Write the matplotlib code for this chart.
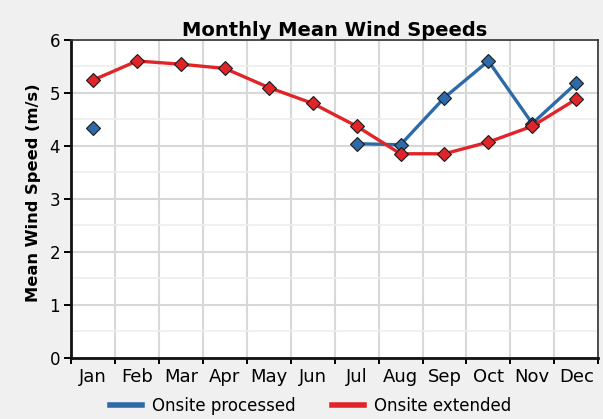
import matplotlib
matplotlib.use("Agg")
import matplotlib.pyplot as plt
import numpy as np
from matplotlib.ticker import MultipleLocator, FixedLocator

plt.rcParams['font.family'] = ['DejaVu Sans']

months = ["Jan", "Feb", "Mar", "Apr", "May", "Jun", "Jul", "Aug", "Sep", "Oct", "Nov", "Dec"]
processed = [4.33, None, None, None, None, None, 4.04, 4.02, 4.91, 5.60, 4.42, 5.18]
extended = [5.24, 5.60, 5.54, 5.46, 5.10, 4.80, 4.37, 3.85, 3.85, 4.07, 4.37, 4.88]

blue = "#2f6aa8"
red = "#e0252a"

fig = plt.figure(figsize=(6.03, 4.19), dpi=100, facecolor="#f0f0f0")
ax = fig.add_axes([0.118, 0.146, 0.874, 0.759])
ax.set_facecolor("white")

x = np.arange(len(months))
p = np.array([np.nan if v is None else v for v in processed], dtype=float)
e = np.array(extended, dtype=float)

ax.plot(x, p, color=blue, lw=2.4, marker="D", ms=7.5, mfc=blue, mec="#1a1a1a", mew=0.8, zorder=3,
        label="Onsite processed")
ax.plot(x, e, color=red, lw=2.4, marker="D", ms=7.5, mfc=red, mec="#1a1a1a", mew=0.8, zorder=4,
        label="Onsite extended")

ax.set_xlim(-0.5, 11.5)
ax.set_ylim(0, 6)
ax.set_xticks(x)
ax.set_xticklabels(months, fontsize=13)
ax.tick_params(axis="x", length=0, pad=7)
ax.xaxis.set_minor_locator(FixedLocator(np.arange(-0.5, 12, 1)))
ax.tick_params(axis="x", which="minor", length=4, width=1.4, direction="out")
ax.yaxis.set_major_locator(MultipleLocator(1))
ax.yaxis.set_minor_locator(MultipleLocator(0.5))
ax.tick_params(axis="y", which="major", length=5, width=1.4, labelsize=12, pad=3)
ax.tick_params(axis="y", which="minor", length=0)

ax.grid(True, axis="y", which="major", color="#d8d8d8", lw=1.5, zorder=0)
ax.grid(True, axis="y", which="minor", color="#eeeeee", lw=1.2, zorder=0)
ax.grid(True, axis="x", which="minor", color="#d8d8d8", lw=1.5, zorder=0)
ax.set_axisbelow(True)

for s in ["left", "bottom"]:
    ax.spines[s].set_linewidth(2.0)
    ax.spines[s].set_color("#111111")
for s in ["top", "right"]:
    ax.spines[s].set_linewidth(1.2)
    ax.spines[s].set_color("#333333")

ax.set_title("Monthly Mean Wind Speeds", fontsize=14, fontweight="bold", pad=2)
ax.set_ylabel("Mean Wind Speed (m/s)", fontsize=11.7, fontweight="bold")
ax.yaxis.set_label_coords(-0.057, 0.519)

leg = fig.legend(loc="lower center", bbox_to_anchor=(0.515, -0.027), ncol=2, frameon=False,
                 fontsize=12, handlelength=1.9, columnspacing=2.2, handletextpad=0.6)
for h in leg.get_lines():
    h.set_marker("")
    h.set_linewidth(4)

fig.savefig("out.png", dpi=100, facecolor=fig.get_facecolor())
